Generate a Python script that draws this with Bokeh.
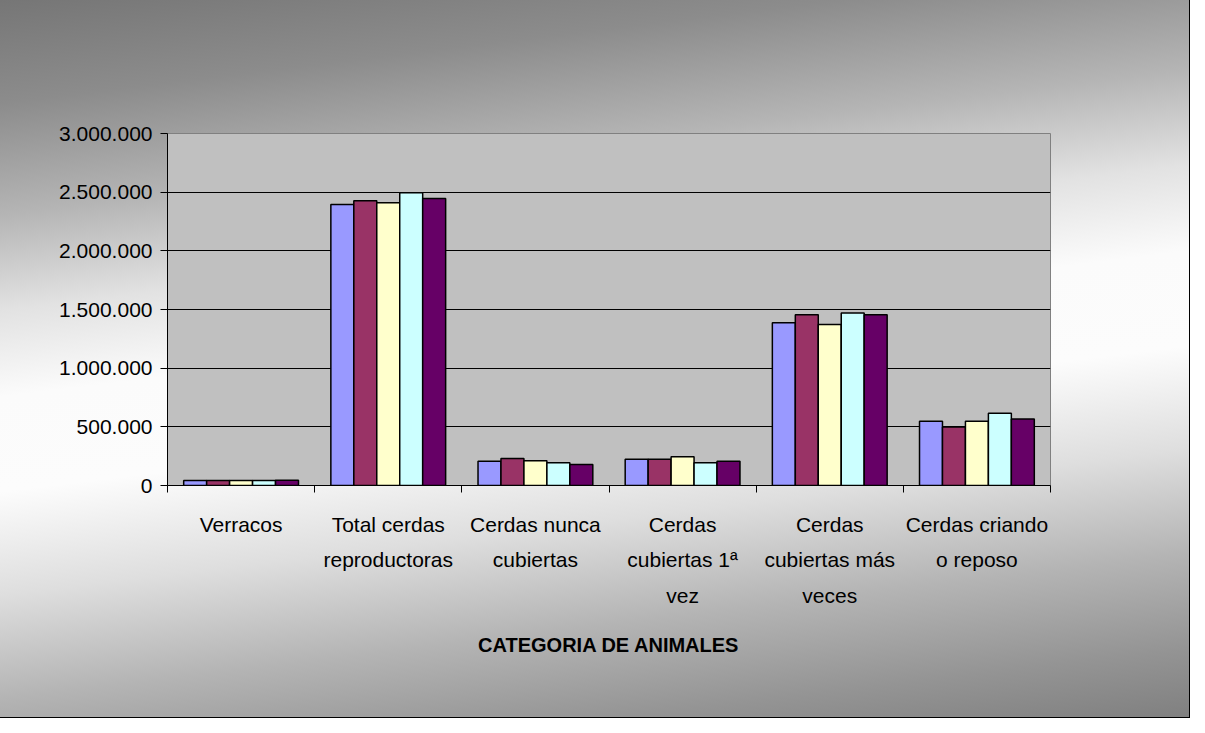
import math
from bokeh.plotting import figure
from bokeh.models import (FactorRange, Range1d, LinearAxis, FixedTicker, Label,
                          Legend, LegendItem, BoxAnnotation, ColumnDataSource)
from bokeh.transform import dodge
from bokeh.embed import file_html
from bokeh.resources import INLINE

# ---------------- data ----------------
categories = ["Verracos", "Total cerdas\nreproductoras", "Cerdas nunca\ncubiertas",
              "Cerdas\ncubiertas 1ª\nvez", "Cerdas\ncubiertas más\nveces",
              "Cerdas criando\no reposo"]
series = ["nov-11", "may-11", "nov-10", "may-10", "nov-09"]
nov_11 = [42000, 2395000, 207000, 224000, 1388000, 548000]
may_11 = [43000, 2427000, 230000, 224000, 1456000, 499000]
nov_10 = [43000, 2410000, 210000, 244000, 1373000, 548000]
may_10 = [43000, 2495000, 193000, 193000, 1470000, 616000]
nov_09 = [44000, 2447000, 179000, 207000, 1456000, 567000]
colors = ["#9999FF", "#993366", "#FFFFCC", "#CCFFFF", "#660066"]
y_ticks = [0, 500000, 1000000, 1500000, 2000000, 2500000, 3000000]
y_tick_labels = ["0", "500.000", "1.000.000", "1.500.000", "2.000.000",
                 "2.500.000", "3.000.000"]
title_text = "EVOLUCIÓN CERDOS REPRODUCTORES"
y_title = "Número total de animales"
x_title = "CATEGORIA DE ANIMALES"

# ---------------- layout ----------------
W, H = 1189, 717
FL, FR, FT, FB = 167, 1050, 133, 485   # frame edges in canvas px
FONT = "Liberation Sans"

data = dict(cat=categories)
for s, v in zip(series, [nov_11, may_11, nov_10, may_10, nov_09]):
    data[s] = v
source = ColumnDataSource(data)

p = figure(x_range=FactorRange(factors=categories), y_range=Range1d(0, 3000000),
           width=W, height=H, output_backend="svg", toolbar_location=None,
           min_border_left=FL, min_border_right=W - FR, min_border_top=FT,
           min_border_bottom=H - FB)
p.border_fill_alpha = 0
p.background_fill_color = "#C0C0C0"
p.outline_line_color = "#808080"
p.styles = {
    "background": "linear-gradient(173deg, #767676 0%, #8c8c8c 12%, #b5b5b5 25%, "
                  "#e2e2e2 36%, #fbfbfb 46%, #fcfcfc 57%, #dedede 69%, #b4b4b4 81%, "
                  "#949494 92%, #808080 100%)",
    "outline": "1px solid black",
}

# bars
bw = 0.156
renderers = []
for i, (s, c) in enumerate(zip(series, colors)):
    r = p.vbar(x=dodge("cat", (i - 2) * bw, range=p.x_range), top=s, width=bw,
               source=source, fill_color=c, line_color="black", line_width=1.5)
    renderers.append(r)

# y axis
ya = p.yaxis[0]
ya.ticker = FixedTicker(ticks=y_ticks)
ya.major_label_overrides = {t: l for t, l in zip(y_ticks, y_tick_labels)}
ya.major_label_text_font = FONT
ya.major_label_text_font_size = "21px"
ya.major_label_text_color = "black"
ya.major_tick_out = 7
ya.major_tick_in = 0
ya.minor_tick_line_color = None
ya.axis_line_color = "black"
ya.major_tick_line_color = "black"
ya.major_label_standoff = 8

p.ygrid.ticker = FixedTicker(ticks=y_ticks)
p.ygrid.grid_line_color = "black"
p.ygrid.grid_line_width = 1
p.xgrid.visible = False

# category axis (labels only)
cat_axis = p.below[0]
cat_axis.axis_line_color = None
cat_axis.major_tick_line_color = None
cat_axis.minor_tick_line_color = None
cat_axis.major_label_text_font = FONT
cat_axis.major_label_text_font_size = "21px"
cat_axis.major_label_text_color = "black"
cat_axis.major_label_text_line_height = 1.55
cat_axis.major_label_standoff = 14
cat_axis.axis_label = x_title
cat_axis.axis_label_text_font = FONT
cat_axis.axis_label_text_font_size = "20px"
cat_axis.axis_label_text_font_style = "bold"
cat_axis.axis_label_text_color = "black"
cat_axis.axis_label_standoff = 24

# boundary ticks between categories (same x range, synthetic coordinates)
bounds = list(range(len(categories) + 1))
tick_axis = LinearAxis(ticker=FixedTicker(ticks=bounds),
                       major_tick_out=7, major_tick_in=0, axis_line_color="black",
                       major_tick_line_color="black", minor_tick_line_color=None,
                       major_label_overrides={b: "" for b in bounds},
                       major_label_text_font_size="1px", major_label_standoff=0)
p.below = [tick_axis, cat_axis]


def sbox(x0, y0, x1, y1, **kw):
    return BoxAnnotation(left=x0 - FL, right=x1 - FL, top=FB - y0, bottom=FB - y1,
                         left_units="screen", right_units="screen",
                         top_units="screen", bottom_units="screen", **kw)


def mix(c0, c1, t):
    a = [int(c0[i:i + 2], 16) for i in (1, 3, 5)]
    b = [int(c1[i:i + 2], 16) for i in (1, 3, 5)]
    return "#%02x%02x%02x" % tuple(round(x + (y - x) * t) for x, y in zip(a, b))


# title box: shadow, gradient, border
tx0, ty0, tx1, ty1 = 341, 20, 872, 81
p.add_layout(sbox(tx0 + 2, ty0 + 2, tx1 + 2, ty1 + 2, fill_color="black", fill_alpha=1,
                  line_color=None))
n = 20
for k in range(n):
    y0 = ty0 + (ty1 - ty0) * k / n
    y1 = ty0 + (ty1 - ty0) * (k + 1) / n
    t = min(1.0, (k + 0.5) / n / 0.65)
    p.add_layout(sbox(tx0, y0, tx1, y1 + 0.5, fill_color=mix("#9c9c9c", "#fdfdfd", t),
                      fill_alpha=1, line_color=None))
p.add_layout(sbox(tx0, ty0, tx1, ty1, fill_color=None, fill_alpha=0,
                  line_color="black", line_width=1.5, line_alpha=1))
p.add_layout(Label(x=(tx0 + tx1) / 2 - FL, y=FB - (ty0 + ty1) / 2, x_units="screen",
                   y_units="screen", text=title_text, text_font=FONT,
                   text_font_size="26px", text_font_style="bold", text_color="black",
                   text_align="center", text_baseline="middle"))

# y title box: shadow, gradient, border
bx0, by0, bx1, by1 = 14, 139, 52, 474
p.add_layout(sbox(bx0 + 5, by0 + 6, bx1 + 5, by1 + 6, fill_color="black", fill_alpha=1,
                  line_color=None))
n = 40
for k in range(n):
    y0 = by0 + (by1 - by0) * k / n
    y1 = by0 + (by1 - by0) * (k + 1) / n
    t = min(1.0, (k + 0.5) / n / 0.85)
    p.add_layout(sbox(bx0, y0, bx1, y1 + 0.5, fill_color=mix("#707070", "#ffffff", t),
                      fill_alpha=1, line_color=None))
p.add_layout(sbox(bx0, by0, bx1, by1, fill_color=None, fill_alpha=0,
                  line_color="black", line_width=1.5, line_alpha=1))
p.add_layout(Label(x=(bx0 + bx1) / 2 - FL, y=FB - (by0 + by1) / 2, x_units="screen",
                   y_units="screen", text=y_title, angle=math.pi / 2,
                   text_font=FONT, text_font_size="26px", text_font_style="bold",
                   text_color="black", text_align="center", text_baseline="middle"))

# legend
legend = Legend(items=[LegendItem(label=s, renderers=[r]) for s, r in zip(series, renderers)],
                orientation="horizontal", location=(377 - FL, FB - 717),
                label_text_font=FONT, label_text_font_size="18px",
                label_text_color="black", glyph_width=12, glyph_height=12,
                label_standoff=6, spacing=17, padding=6, margin=0,
                border_line_color="black", border_line_width=1.5, border_line_alpha=1,
                background_fill_color="white", background_fill_alpha=1)
p.add_layout(legend)

open("out.html", "w").write(file_html(p, INLINE))
